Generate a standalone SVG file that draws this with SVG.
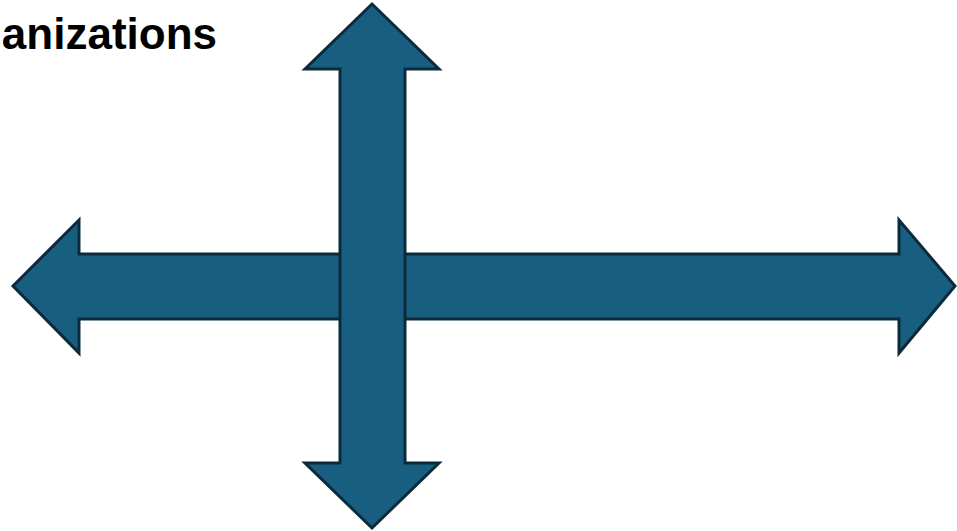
<svg xmlns="http://www.w3.org/2000/svg" width="957" height="531" viewBox="0 0 957 531">
<style>
.arrow{fill:#185E80;stroke:#0B2A3B;stroke-width:3;stroke-linejoin:miter}
.title{font-family:"Liberation Sans",Arial,sans-serif;font-weight:bold;font-size:44px;fill:#000}
</style>
<rect width="957" height="531" fill="#fff"/>
<g id="title"><text class="title" x="217" y="49" text-anchor="end">anizations</text></g>
<g id="connectors">
<g id="horizontal-arrow"><polygon class="arrow" points="13,286 79,220 79,254 899,254 899,220 955,286 899,353 899,319 79,319 79,353"/></g>
<g id="vertical-arrow"><polygon class="arrow" points="372,4 439,69 405,69 405,463 439,463 372,528 305,463 340,463 340,69 305,69"/></g>
</g>
</svg>
